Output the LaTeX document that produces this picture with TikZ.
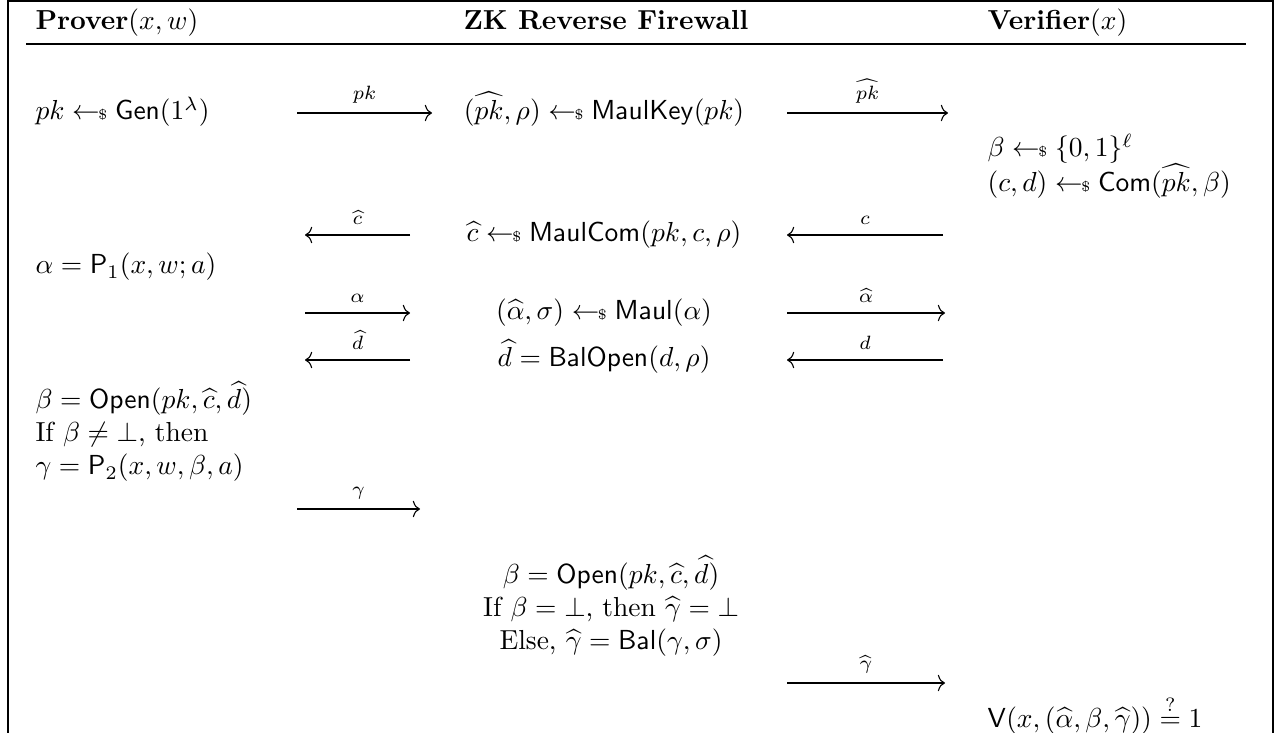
\documentclass[tikz,border=0pt]{standalone}
\usepackage{amsmath,amssymb}
\usetikzlibrary{arrows.meta}
\newcommand{\smp}{\mathrel{\leftarrow\!\!\mbox{\tiny$\$$}}}
\tikzset{
  lt/.style={anchor=base west, inner sep=0pt, font=\normalsize},
  ct/.style={anchor=base, inner sep=0pt, align=center},
  msg/.style={line width=0.4pt, -{Computer Modern Rightarrow[length=2.6pt,width=6pt]}},
  lab/.style={above, inner sep=3.5pt, font=\scriptsize},
  hd/.style={anchor=base west, inner sep=0pt},
}
\begin{document}
\begin{tikzpicture}[x=0.3636pt, y=-0.3636pt]
\useasboundingbox (0,0) rectangle (1281,733);
% frame
\draw[line width=0.6pt] (8,733) -- (8,1) -- (1273,1) -- (1273,733);
% headers
\node[hd] (hp) at (35,30) {\textbf{Prover}$(x,w)$};
\node[ct] (hz) at (606,30) {\textbf{ZK Reverse Firewall}};
\node[hd] (hv) at (987,30) {\textbf{Verifier}$(x)$};
\coordinate (r0) at (26,44);
\coordinate (r1) at (1246,44);
\draw[line width=0.45pt] (r0) -- (r1);
% row 1
\node[lt] (p1) at (35,120) {$pk \smp \mathsf{Gen}(1^\lambda)$};
\node[ct] (m1) at (604,120) {$(\widehat{pk},\rho) \smp \mathsf{MaulKey}(pk)$};
\coordinate (a1s) at (297,113); \coordinate (a1e) at (432,113);
\draw[msg] (a1s) -- node[lab] {$pk$} (a1e);
\coordinate (b1s) at (787,113); \coordinate (b1e) at (948,113);
\draw[msg] (b1s) -- node[lab] {$\widehat{pk}$} (b1e);
% verifier
\node[lt] (v1) at (987,157) {$\beta \smp \{0,1\}^\ell$};
\node[lt] (v2) at (987,192) {$(c,d) \smp \mathsf{Com}(\widehat{pk},\beta)$};
% row 2
\node[ct] (m2) at (604,242) {$\widehat{c} \smp \mathsf{MaulCom}(pk,c,\rho)$};
\coordinate (a2s) at (410,235); \coordinate (a2e) at (305,235);
\draw[msg] (a2s) -- node[lab] {$\widehat{c}$} (a2e);
\coordinate (b2s) at (943,235); \coordinate (b2e) at (787,235);
\draw[msg] (b2s) -- node[lab] {$c$} (b2e);
\node[lt] (p2) at (35,274) {$\alpha = \mathsf{P}_1(x,w;a)$};
% row 3
\node[ct] (m3) at (604,320) {$(\widehat{\alpha},\sigma) \smp \mathsf{Maul}(\alpha)$};
\coordinate (a3s) at (305,313); \coordinate (a3e) at (410,313);
\draw[msg] (a3s) -- node[lab] {$\alpha$} (a3e);
\coordinate (b3s) at (787,313); \coordinate (b3e) at (945,313);
\draw[msg] (b3s) -- node[lab] {$\widehat{\alpha}$} (b3e);
% row 4
\node[ct] (m4) at (604,367) {$\widehat{d} = \mathsf{BalOpen}(d,\rho)$};
\coordinate (a4s) at (410,360); \coordinate (a4e) at (305,360);
\draw[msg] (a4s) -- node[lab] {$\widehat{d}$} (a4e);
\coordinate (b4s) at (943,360); \coordinate (b4e) at (787,360);
\draw[msg] (b4s) -- node[lab] {$d$} (b4e);
% prover block
\node[lt] (p3) at (35,409) {$\beta = \mathsf{Open}(pk,\widehat{c},\widehat{d})$};
\node[lt] (p4) at (35,442) {If $\beta \neq \bot$, then};
\node[lt] (p5) at (35,475) {$\gamma = \mathsf{P}_2(x,w,\beta,a)$};
% row 5
\coordinate (a5s) at (297,509); \coordinate (a5e) at (420,509);
\draw[msg] (a5s) -- node[lab] {$\gamma$} (a5e);
% firewall block
\node[ct] (m5) at (611,583) {$\beta = \mathsf{Open}(pk,\widehat{c},\widehat{d})$};
\node[ct] (m6) at (611,616) {If $\beta = \bot$, then $\widehat{\gamma} = \bot$};
\node[ct] (m7) at (611,649) {Else, $\widehat{\gamma} = \mathsf{Bal}(\gamma,\sigma)$};
% row 6
\coordinate (b6s) at (787,683); \coordinate (b6e) at (945,683);
\draw[msg] (b6s) -- node[lab] {$\widehat{\gamma}$} (b6e);
\node[lt] (v3) at (987,727) {$\mathsf{V}(x,(\widehat{\alpha},\beta,\widehat{\gamma})) \stackrel{?}{=} 1$};
\end{tikzpicture}
\end{document}
